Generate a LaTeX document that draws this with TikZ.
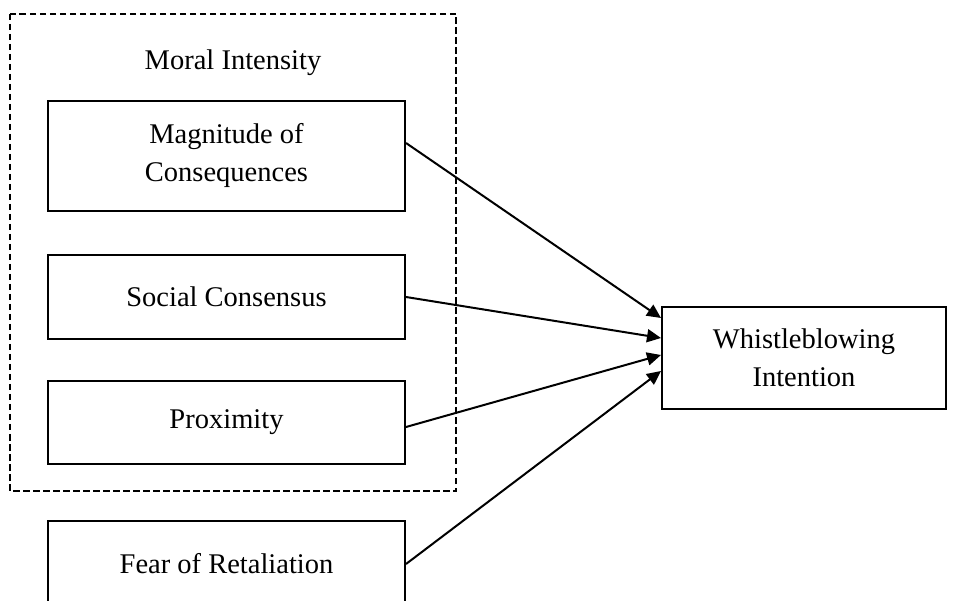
\documentclass[tikz,border=0pt]{standalone}
\usepackage{fontspec}
\setmainfont{Liberation Serif}
\usetikzlibrary{arrows.meta}
\tikzset{
  box/.style={draw, line width=2pt, rectangle, align=center, inner sep=0pt},
  lbl/.style={align=center, inner sep=0pt},
  conn/.style={line width=2pt, -{Triangle[length=14pt,width=13pt]}},
  group/.style={draw, line width=1.8pt, dash pattern=on 6.5pt off 3.5pt}
}
\begin{document}
\begin{tikzpicture}[x=1pt,y=-1pt, font=\fontsize{28.5}{38}\selectfont]
\useasboundingbox (0,0) rectangle (964,601);
\draw[group] (10,14) rectangle (456,491);
\node[lbl] (mi) at (233,63) {Moral Intensity};
\node[box, minimum width=357pt, minimum height=110pt] (mag) at (226.5,156) {Magnitude of\\Consequences};
\node[box, minimum width=357pt, minimum height=84pt] (soc) at (226.5,297) {Social Consensus};
\node[box, minimum width=357pt, minimum height=83pt] (prox) at (226.5,422.5) {Proximity};
\node[box, minimum width=357pt, minimum height=86pt] (fear) at (226.5,564) {Fear of Retaliation};
\node[box, minimum width=284pt, minimum height=102pt] (wi) at (804,358) {Whistleblowing\\Intention};
\draw[conn] ([yshift=13pt]mag.east) -- ([yshift=40pt]wi.west);
\draw[conn] (soc.east) -- ([yshift=20pt]wi.west);
\draw[conn] ([yshift=-4.5pt]prox.east) -- ([yshift=3pt]wi.west);
\draw[conn] (fear.east) -- ([yshift=-13pt]wi.west);
\end{tikzpicture}
\end{document}
